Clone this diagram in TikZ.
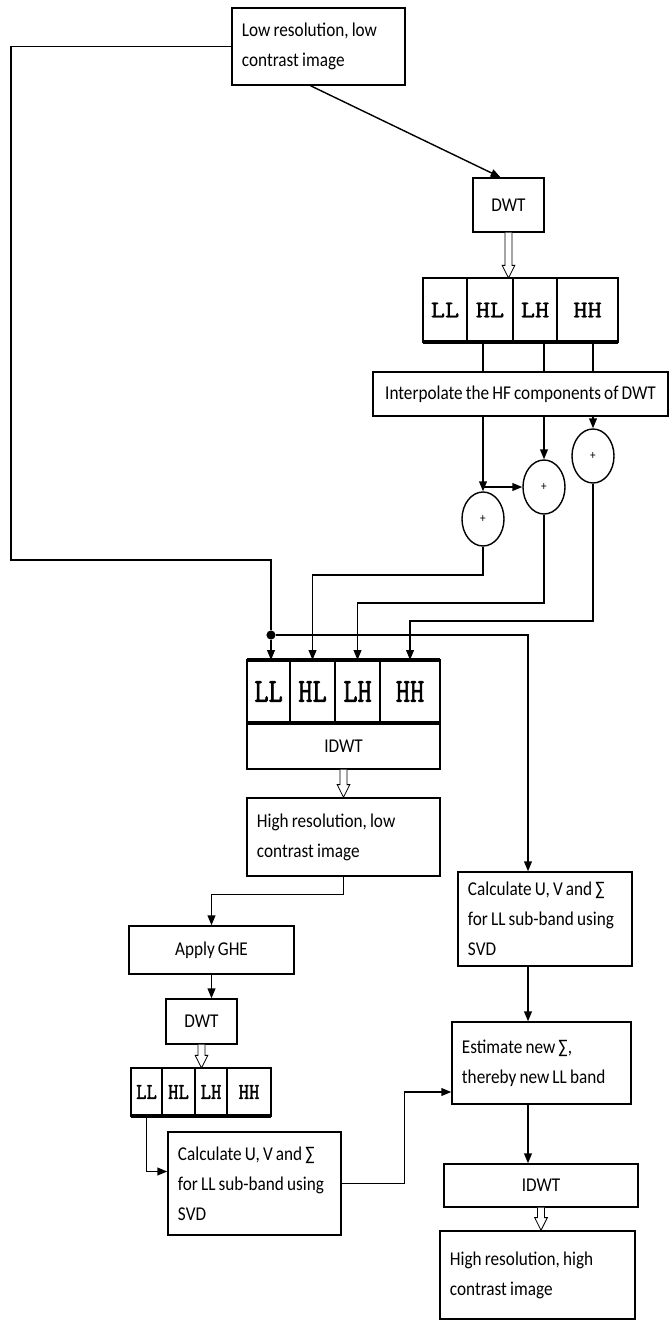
\documentclass[tikz,border=0pt]{standalone}
\usepackage{fontspec}
\setmainfont[FakeStretch=0.88,WordSpace=0.8]{Carlito}
\newfontfamily\bandfont[FakeStretch=1.15,FakeBold=1.6]{Latin Modern Mono}
\newfontfamily\bandfontmid[FakeStretch=0.82,FakeBold=1.6]{Latin Modern Mono}
\newfontfamily\bandfontlow[FakeStretch=0.9,FakeBold=1.6]{Latin Modern Mono}
\usetikzlibrary{positioning,shapes.geometric,calc,arrows.meta}

% outlined arrow pointing down, from #1 to #2
\newcommand{\hollowdown}[2]{%
  \draw[line width=0.6pt, fill=white] let \p1=#1, \p2=#2 in
    (\x1-2.5pt,\y1) -- (\x1-2.5pt,\y2+9pt) -- (\x1-4.5pt,\y2+9pt) -- (\x1,\y2)
    -- (\x1+4.5pt,\y2+9pt) -- (\x1+2.5pt,\y2+9pt) -- (\x1+2.5pt,\y1);}

\begin{document}
\begin{tikzpicture}[
    x=0.025cm,
    y=-0.025cm,
    font=\fontsize{13.9}{21.3}\selectfont,
    block/.style={
        rectangle,
        draw,
        line width=1pt,
        inner sep=0pt,
        align=center
    },
    textblock/.style={
        rectangle,
        draw,
        line width=1pt,
        inner xsep=0.25cm,
        inner ysep=0pt,
        align=flush left
    },
    cell/.style={
        rectangle,
        draw,
        line width=1pt,
        inner sep=0pt,
        outer sep=0pt
    },
    adder/.style={
        ellipse,
        draw,
        line width=1pt,
        minimum width=1.05cm,
        minimum height=1.35cm,
        inner sep=0pt,
        font=\fontsize{9}{9}\selectfont
    },
    jdot/.style={
        circle,
        fill,
        inner sep=0pt,
        minimum size=6.5pt
    },
    conn/.style={
        draw,
        line width=1pt
    },
    line/.style={
        conn,
        -{Triangle[length=7pt,width=5.5pt]}
    },
    bar/.style={
        draw,
        line width=2.4pt
    }
]
    \useasboundingbox (0,0) rectangle (671,1322);

    % Components
    \node [textblock, text width=3.825cm, minimum height=1.925cm] (src) at (318.5,46.5) {Low resolution, low\\contrast image};
    \node [block, minimum width=1.775cm, minimum height=1.35cm] (dwt1) at (508.5,205) {DWT};

    \node [cell, minimum width=1.1cm, minimum height=1.6cm, font=\bandfont\fontsize{17}{19}\selectfont] (ll1) at (445,310) {LL};
    \node [cell, minimum width=1.15cm, minimum height=1.6cm, font=\bandfont\fontsize{17}{19}\selectfont, right=0pt of ll1] (hl1) {HL};
    \node [cell, minimum width=1.1cm, minimum height=1.6cm, font=\bandfont\fontsize{17}{19}\selectfont, right=0pt of hl1] (lh1) {LH};
    \node [cell, minimum width=1.525cm, minimum height=1.6cm, font=\bandfont\fontsize{17}{19}\selectfont, right=0pt of lh1] (hh1) {HH};

    \node [block, minimum width=7.375cm, minimum height=1.1cm] (interp) at (520.5,394) {Interpolate the HF components of DWT};

    \node [adder] (add1) at (483,519) {+};
    \node [adder] (add2) at (544,487) {+};
    \node [adder] (add3) at (593,456) {+};

    \node [jdot] (jn) at (271,635) {};
    \coordinate (fb) at (11,560);
    \coordinate (spine) at (528,0);

    \node [cell, minimum width=1.075cm, minimum height=1.575cm, font=\bandfontmid\fontsize{24}{26}\selectfont] (ll2) at (268.5,691.5) {LL};
    \node [cell, minimum width=1.125cm, minimum height=1.575cm, font=\bandfontmid\fontsize{24}{26}\selectfont, right=0pt of ll2] (hl2) {HL};
    \node [cell, minimum width=1.125cm, minimum height=1.575cm, font=\bandfontmid\fontsize{24}{26}\selectfont, right=0pt of hl2] (lh2) {LH};
    \node [cell, minimum width=1.5cm, minimum height=1.575cm, font=\bandfontmid\fontsize{24}{26}\selectfont, right=0pt of lh2] (hh2) {HH};

    \node [block, minimum width=4.825cm, minimum height=1.15cm] (idwt1) at (343.5,746) {IDWT};
    \node [textblock, text width=4.325cm, minimum height=1.95cm] (hrlow) at (343.5,837) {High resolution, low\\contrast image};
    \node [block, minimum width=4.125cm, minimum height=1.2cm] (ghe) at (211.5,950) {Apply GHE};
    \node [block, minimum width=1.775cm, minimum height=1.125cm] (dwt2) at (201.5,1021.5) {DWT};

    \node [cell, minimum width=0.775cm, minimum height=1.2cm, font=\bandfontlow\fontsize{16}{18}\selectfont] (ll3) at (146.5,1092) {LL};
    \node [cell, minimum width=0.825cm, minimum height=1.2cm, font=\bandfontlow\fontsize{16}{18}\selectfont, right=0pt of ll3] (hl3) {HL};
    \node [cell, minimum width=0.8cm, minimum height=1.2cm, font=\bandfontlow\fontsize{16}{18}\selectfont, right=0pt of hl3] (lh3) {LH};
    \node [cell, minimum width=1.1cm, minimum height=1.2cm, font=\bandfontlow\fontsize{16}{18}\selectfont, right=0pt of lh3] (hh3) {HH};

    \node [textblock, text width=3.825cm, minimum height=2.575cm] (calc2) at (254.5,1183.5) {Calculate U, V and ∑\\for LL sub-band using\\SVD};
    \node [textblock, text width=3.85cm, minimum height=2.35cm] (calc1) at (545,919) {Calculate U, V and ∑\\for LL sub-band using\\SVD};
    \node [textblock, text width=3.975cm, minimum height=2.05cm] (est) at (541.5,1063) {Estimate new ∑,\\thereby new LL band};
    \node [block, minimum width=4.85cm, minimum height=1.075cm] (idwt2) at (541,1185.5) {IDWT};
    \node [textblock, text width=4.375cm, minimum height=2.2cm] (final) at (537.5,1275) {High resolution, high\\contrast image};

    % thick band edges
    \draw [bar] (ll1.south west) -- (hh1.south east);
    \draw [bar] (ll2.north west) -- (hh2.north east);
    \draw [bar] (ll2.south west) -- (hh2.south east);
    \draw [bar] (ll3.south west) -- (hh3.south east);

    % Forward path (DWT, interpolation, adders)
    \path [line] ($(src.south)+(-8,0)$) -- ($(dwt1.north)+(-8,0)$);
    \hollowdown{(dwt1.south)}{(dwt1.south |- hl1.north)}
    \path [conn] (hl1.south -| add1) -- (interp.north -| add1);
    \path [conn] (lh1.south -| add2) -- (interp.north -| add2);
    \path [conn] (hh1.south -| add3) -- (interp.north -| add3);
    \path [line] (interp.south -| add1) -- (add1.north);
    \path [line] (interp.south -| add2) -- (add2.north);
    \path [line] (interp.south -| add3) -- (add3.north);
    \path [line] (add1 |- add2.west) -- (add2.west);

    % Adders into the sub-bands
    \path [line] (add1.south) |- ($(hl2.north)+(0,-85)$) -- (hl2.north);
    \path [line] (add2.south) |- ($(lh2.north)+(0,-57)$) -- (lh2.north);
    \path [line] (add3.south) |- ($(hh2.north)+(0,-39)$) -- (hh2.north);

    % Feedback of the input image (LL band)
    \path [conn] (src.west) -| (fb) -| (jn);
    \path [line] (jn) -- (jn |- ll2.north);
    \path [line] (jn) -| (spine |- calc1.north);

    % Left branch
    \hollowdown{(idwt1.south)}{(hrlow.north)}
    \path [line] (hrlow.south) |- ($(ghe.north)+(0,-31)$) -- (ghe.north);
    \path [line] (ghe.south) -- (ghe.south |- dwt2.north);
    \hollowdown{(dwt2.south)}{(dwt2.south |- ll3.north)}
    \path [line] (ll3.south) |- ($(calc2.west)+(0,-12)$);
    \path [line] (calc2.east) -- ++(63,0) |- ($(est.west)+(0,29)$);

    % Right branch
    \path [line] (spine |- calc1.south) -- (spine |- est.north);
    \path [line] (spine |- est.south) -- (spine |- idwt2.north);
    \hollowdown{(idwt2.south)}{(final.north)}
\end{tikzpicture}
\end{document}
